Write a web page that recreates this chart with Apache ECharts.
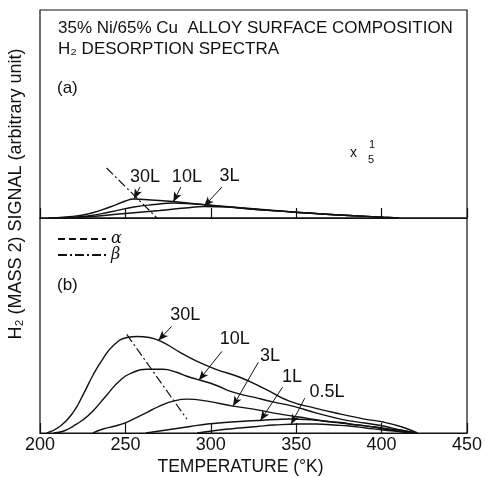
<!DOCTYPE html>
<html>
<head>
<meta charset="utf-8">
<script src="https://cdn.jsdelivr.net/npm/echarts@6/dist/echarts.min.js"></script>
<style>
  html, body { margin: 0; padding: 0; background: #fff; }
  #chart { width: 486px; height: 477px; }
</style>
</head>
<body>
<div id="chart"></div>
<script>
// x ticks (temperature, K)
const tempTicks = [200, 250, 300, 350, 400, 450];

// panel (a), signal shown x 1/5
const tempA30 = [205, 215, 228, 241, 250, 255, 265, 278, 298, 323, 348, 365, 381, 401, 410];
const sigA30  = [0, 1, 4, 11, 17, 19, 18, 16.5, 13, 9, 6, 4, 2.5, 0.7, 0];
const tempA10 = [212, 228, 241, 255, 267, 278, 290, 298, 323, 348, 365, 381, 401, 410];
const sigA10  = [0, 2, 6, 11, 13.5, 15, 14, 13, 9.5, 6, 4, 2.5, 0.7, 0];
const tempA3  = [212, 230, 250, 270, 285, 296, 310, 323, 348, 365, 381, 401, 410];
const sigA3   = [0, 1.5, 4.5, 7.5, 10, 11.5, 11, 9, 6, 4, 2.5, 0.7, 0];
const betaA   = [[239, 50], [268.5, 0]];

// panel (b)
const tempB30 = [204, 212, 219.5, 225.4, 231, 237, 243, 251, 257, 264, 272, 282, 292, 303, 317, 332, 346, 361, 376, 390, 401, 412, 421];
const sigB30  = [0, 7, 21, 39, 58, 75, 88, 96, 97, 96, 91, 81, 72, 64, 56, 44, 32, 25, 19, 14, 11, 6, 0];
const tempB10 = [208, 214, 219.5, 225, 231, 239, 247, 254.6, 262.5, 272, 280, 286, 294, 303, 313, 325, 337, 348, 362, 376, 390, 401, 411, 420];
const sigB10  = [0, 2, 7, 13, 22, 38, 53, 61, 64, 64, 61, 57, 53, 48, 41, 36, 31, 27, 20, 14, 10, 7, 3, 0];
const tempB3  = [231, 237, 244, 251, 257, 263, 270, 278, 286, 298, 313, 325, 337, 348, 356, 366, 376, 386, 395, 405, 418];
const sigB3   = [0, 4, 7, 11, 16, 21, 27, 32, 34, 32, 27, 24, 20, 17, 15, 12, 10, 8, 6, 3, 0];
const tempB1  = [262, 270, 278, 288, 298, 312, 327, 338, 346, 356, 366, 376, 386, 396, 405, 414, 420];
const sigB1   = [0, 2, 4, 6.5, 9, 11, 12.5, 13.5, 14, 13.5, 12, 10.5, 8, 6, 4, 2, 0];
const tempB05 = [292, 305, 317, 327, 337, 352, 362, 372, 381, 391, 401, 410, 418];
const sigB05  = [0, 3, 5, 6.5, 8, 9, 9, 8, 7, 5, 3, 1.5, 0];
const betaB   = [[250.8, 99], [286, 14]];

// curve labels and arrows: [label pos], [arrow start], [arrow tip]
const labelsA   = ['30L', '10L', '3L'];
const labelPosA = [[261.5, 41], [286, 41], [311, 42]];
const arrowFromA = [[258.5, 31], [282.5, 31], [306.5, 31]];
const arrowToA   = [[255, 19], [278, 16], [296, 11.5]];

const labelsB   = ['30L', '10L', '3L', '1L', '0.5L'];
const labelPosB = [[285, 119], [314, 94], [334.7, 77], [347.5, 56], [368, 41]];
const arrowFromB = [[277, 107], [306.5, 82], [327.8, 71], [342, 46], [355, 35]];
const arrowToB   = [[269.3, 93], [293, 53], [313, 27], [329, 12.5], [347, 8.7]];

const zip = (xs, ys) => xs.map((x, i) => [x, ys[i]]);
const FONT = 'Liberation Sans';

var myChart = echarts.init(document.getElementById('chart'));

function curve(name, idx, xs, ys) {
  return {
    name: name,
    type: 'line',
    xAxisIndex: idx,
    yAxisIndex: idx,
    data: zip(xs, ys),
    smooth: 0.5,
    symbol: 'none',
    lineStyle: { color: '#111', width: 1.4 },
    silent: true,
    z: 3
  };
}

function annot(idx, labels, pos, from, to) {
  return {
    name: 'annot' + idx,
    type: 'line',
    xAxisIndex: idx,
    yAxisIndex: idx,
    data: [],
    symbol: 'none',
    silent: true,
    markLine: {
      silent: true,
      symbol: ['none', 'arrow'],
      symbolSize: [6, 10],
      lineStyle: { color: '#111', width: 1, type: 'solid' },
      label: { show: false },
      data: from.map((f, i) => [{ coord: f }, { coord: to[i] }])
    },
    markPoint: {
      silent: true,
      symbol: 'circle',
      symbolSize: 1,
      itemStyle: { color: 'rgba(0,0,0,0)' },
      label: {
        show: true,
        position: 'inside',
        color: '#111',
        fontFamily: FONT,
        fontSize: 18,
        formatter: p => p.name
      },
      data: labels.map((l, i) => ({ name: l, coord: pos[i] }))
    }
  };
}

function xAxisCfg(idx, showLabels) {
  return {
    type: 'value',
    gridIndex: idx,
    min: 200,
    max: 450,
    interval: 50,
    axisLine: { show: true, lineStyle: { color: '#111', width: 1.2 } },
    axisTick: { show: true, inside: true, length: 10, lineStyle: { color: '#111', width: 1.2 } },
    splitLine: { show: false },
    axisLabel: {
      show: showLabels,
      color: '#111',
      fontFamily: FONT,
      fontSize: 18,
      margin: 3,
      formatter: v => tempTicks.indexOf(v) >= 0 ? String(v) : ''
    },
    name: showLabels ? 'TEMPERATURE (°K)' : '',
    nameLocation: 'middle',
    nameGap: 25,
    nameTextStyle: { color: '#111', fontFamily: FONT, fontSize: 17.5, padding: [0, 26, 0, 0] }
  };
}

const option = {
  backgroundColor: '#fff',
  animation: false,
  grid: [
    { left: 40, right: 19, top: 10, height: 208, show: true, borderColor: '#111', borderWidth: 1.2 },
    { left: 40, right: 19, top: 218, height: 216, show: true, borderColor: '#111', borderWidth: 1.2 }
  ],
  xAxis: [xAxisCfg(0, false), xAxisCfg(1, true)],
  yAxis: [
    { type: 'value', gridIndex: 0, min: 0, max: 208, show: false },
    { type: 'value', gridIndex: 1, min: 0, max: 216, show: false }
  ],
  legend: {
    data: ['α', 'β'],
    orient: 'vertical',
    left: 52,
    top: 226,
    itemWidth: 48,
    itemHeight: 10,
    itemGap: 0,
    selectedMode: false,
    itemStyle: { color: 'rgba(0,0,0,0)', borderWidth: 0 },
    textStyle: { color: '#111', fontFamily: 'DejaVu Serif', fontStyle: 'italic', fontSize: 16 }
  },
  series: [
    curve('30L a', 0, tempA30, sigA30),
    curve('10L a', 0, tempA10, sigA10),
    curve('3L a', 0, tempA3, sigA3),
    curve('30L b', 1, tempB30, sigB30),
    curve('10L b', 1, tempB10, sigB10),
    curve('3L b', 1, tempB3, sigB3),
    curve('1L b', 1, tempB1, sigB1),
    curve('0.5L b', 1, tempB05, sigB05),
    {
      name: 'α', type: 'line', xAxisIndex: 1, yAxisIndex: 1, data: [], symbol: 'none',
      itemStyle: { color: '#111' },
      lineStyle: { color: '#111', width: 1.3, type: [7, 4] }
    },
    {
      name: 'β', type: 'line', xAxisIndex: 0, yAxisIndex: 0, data: betaA, symbol: 'none', silent: true,
      itemStyle: { color: '#111' },
      lineStyle: { color: '#111', width: 1.2, type: [9, 3, 2, 3] }
    },
    {
      name: 'β', type: 'line', xAxisIndex: 1, yAxisIndex: 1, data: betaB, symbol: 'none', silent: true,
      itemStyle: { color: '#111' },
      lineStyle: { color: '#111', width: 1.2, type: [9, 3, 2, 3] }
    },
    annot(0, labelsA, labelPosA, arrowFromA, arrowToA),
    annot(1, labelsB, labelPosB, arrowFromB, arrowToB)
  ],
  graphic: [
    { type: 'text', left: 58, top: 20, style: { text: '35% Ni/65% Cu  ALLOY SURFACE COMPOSITION', fill: '#111', font: '17px "Liberation Sans"' } },
    { type: 'text', left: 58, top: 41, style: { text: 'H₂ DESORPTION SPECTRA', fill: '#111', font: '17px "Liberation Sans"' } },
    { type: 'text', left: 57, top: 80, style: { text: '(a)', fill: '#111', font: '17px "Liberation Sans"' } },
    { type: 'text', left: 57, top: 277, style: { text: '(b)', fill: '#111', font: '17px "Liberation Sans"' } },
    { type: 'text', left: 350, top: 146, style: { text: 'x', fill: '#111', font: '14px "Liberation Sans"' } },
    { type: 'text', left: 369, top: 139, style: { text: '1', fill: '#111', font: '11px "Liberation Sans"' } },
    { type: 'text', left: 368, top: 154, style: { text: '5', fill: '#111', font: '11px "Liberation Sans"' } },
    {
      type: 'text', x: 16, y: 194, rotation: Math.PI / 2,
      style: { text: 'H₂ (MASS 2) SIGNAL (arbitrary unit)', fill: '#111', font: '18px "Liberation Sans"', align: 'center', verticalAlign: 'middle' }
    }
  ]
};

option && myChart.setOption(option);
</script>
</body>
</html>
